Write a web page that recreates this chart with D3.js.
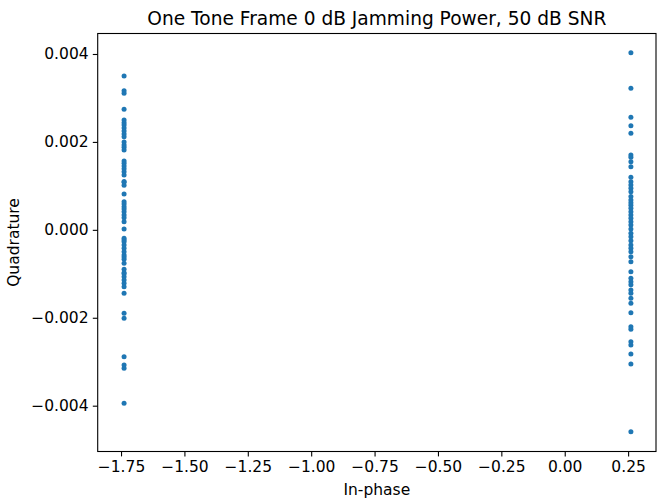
<!DOCTYPE html>
<html lang="en">
<head>
  <meta charset="UTF-8" />
  <title>One Tone Frame constellation</title>
  <script src="https://d3js.org/d3.v7.min.js"></script>
  <style>
    body {margin: 0; background: #fff;}
    svg {display: block; font-family: "DejaVu Sans", sans-serif;}
  </style>
</head>
<body>
<script>
  // in-phase position of each column
  const leftI = -1.738;
  const rightI = 0.261;

  // quadrature values
  const leftQ = [0.003500, 0.003165, 0.003106, 0.002742, 0.002499, 0.002437, 0.002385, 0.002317,
    0.002249, 0.002180, 0.002119, 0.002000, 0.001930, 0.001878, 0.001816, 0.001566, 0.001514,
    0.001452, 0.001391, 0.001323, 0.001248, 0.001100, 0.001082, 0.001013, 0.000815, 0.000640,
    0.000588, 0.000527, 0.000474, 0.000413, 0.000338, 0.000276, 0.000185, 0.000019, -0.000192,
    -0.000230, -0.000270, -0.000345, -0.000420, -0.000497, -0.000572, -0.000620, -0.000670,
    -0.000761, -0.000897, -0.000975, -0.001000, -0.001066, -0.001141, -0.001216, -0.001293,
    -0.001443, -0.001898, -0.002012, -0.002885, -0.003074, -0.003149, -0.003946];

  const rightQ = [0.004030, 0.003220, 0.002560, 0.002369, 0.002196, 0.001703, 0.001650, 0.001550,
    0.001436, 0.001195, 0.001095, 0.001020, 0.000945, 0.000868, 0.000760, 0.000679, 0.000618,
    0.000560, 0.000490, 0.000413, 0.000338, 0.000263, 0.000185, 0.000110, 0.000019, -0.000078,
    -0.000156, -0.000250, -0.000345, -0.000420, -0.000497, -0.000611, -0.000724, -0.000952,
    -0.001102, -0.001179, -0.001250, -0.001368, -0.001443, -0.001557, -0.001671, -0.001885,
    -0.002203, -0.002262, -0.002544, -0.002619, -0.002824, -0.003052, -0.004592];

  const xTicks = [-1.75, -1.5, -1.25, -1.0, -0.75, -0.5, -0.25, 0.0, 0.25];
  const yTicks = [-0.004, -0.002, 0.000, 0.002, 0.004];

  const points = leftQ.map(q => ({i: leftI, q: q}))
    .concat(rightQ.map(q => ({i: rightI, q: q})));

  //****SVG****
  const width = 658, height = 503;
  const plotLeft = 97.7, plotRight = 656, plotTop = 33.5, plotBottom = 451.5;
  const tickFont = 15.5;

  const svg = d3.select("body").append("svg")
    .attr("width", width)
    .attr("height", height);

  //****SCALES****
  const xScale = d3.scaleLinear().domain([-1.842, 0.360]).range([plotLeft, plotRight]);
  const yScale = d3.scaleLinear().domain([-0.005042, 0.004466]).range([plotBottom, plotTop]);

  const minus = s => s.replace("-", "\u2212");

  //****AXES****
  const xAxis = d3.axisBottom(xScale)
    .tickValues(xTicks)
    .tickSize(4.9).tickPadding(4.2)
    .tickFormat(d => minus(d3.format(".2f")(d)));
  const yAxis = d3.axisLeft(yScale)
    .tickValues(yTicks)
    .tickSize(4.9).tickPadding(4.2)
    .tickFormat(d => minus(d3.format(".3f")(d)));

  const gx = svg.append("g")
    .attr("transform", `translate(0, ${plotBottom})`)
    .call(xAxis);
  const gy = svg.append("g")
    .attr("transform", `translate(${plotLeft}, 0)`)
    .call(yAxis);

  [gx, gy].forEach(g => {
    g.select(".domain").remove();
    g.selectAll("text").attr("font-size", tickFont).attr("fill", "#000")
      .attr("font-family", "DejaVu Sans, sans-serif");
    g.selectAll("line").attr("stroke", "#000").attr("stroke-width", 1.1);
  });

  //****POINTS****
  svg.append("g").selectAll("circle")
    .data(points)
    .join("circle")
    .attr("cx", d => xScale(d.i))
    .attr("cy", d => yScale(d.q))
    .attr("r", 2.5)
    .attr("fill", "#1f77b4");

  // frame
  svg.append("rect")
    .attr("x", plotLeft).attr("y", plotTop)
    .attr("width", plotRight - plotLeft).attr("height", plotBottom - plotTop)
    .attr("fill", "none").attr("stroke", "#000").attr("stroke-width", 1.1);

  //****TEXT****
  svg.append("text")
    .attr("x", (plotLeft + plotRight) / 2).attr("y", 25)
    .attr("text-anchor", "middle")
    .attr("font-size", 18.6)
    .text("One Tone Frame 0 dB Jamming Power, 50 dB SNR");

  svg.append("text")
    .attr("x", (plotLeft + plotRight) / 2).attr("y", 495)
    .attr("text-anchor", "middle")
    .attr("font-size", tickFont)
    .text("In-phase");

  svg.append("text")
    .attr("transform", `translate(19, ${(plotTop + plotBottom) / 2}) rotate(-90)`)
    .attr("text-anchor", "middle")
    .attr("font-size", tickFont)
    .text("Quadrature");
</script>
</body>
</html>
